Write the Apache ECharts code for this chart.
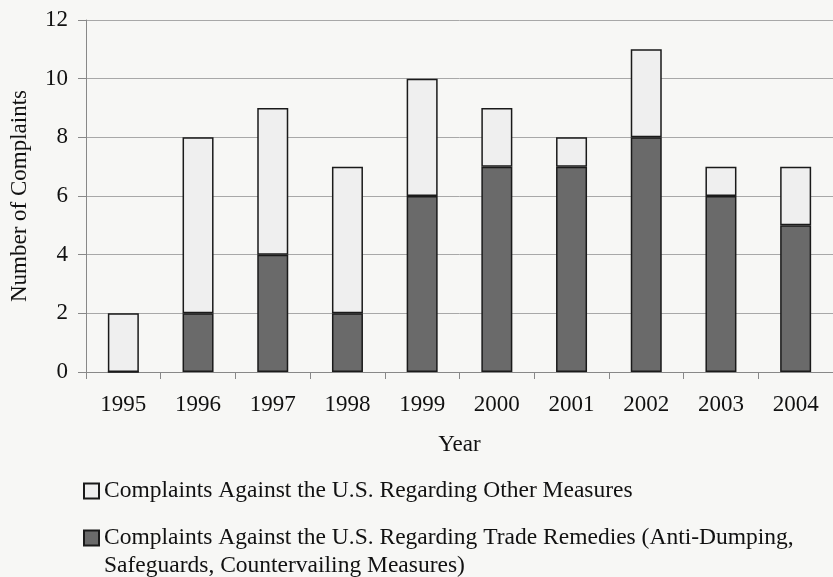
<!DOCTYPE html>
<html>
<head>
<meta charset="utf-8">
<script src="https://cdn.jsdelivr.net/npm/echarts@6/dist/echarts.min.js"></script>
<style>
html,body{margin:0;padding:0;background:#f7f7f5;}
#chart{width:833px;height:577px;}
</style>
</head>
<body>
<div id="chart"></div>
<script>
var years = ['1995','1996','1997','1998','1999','2000','2001','2002','2003','2004'];
var tradeRemedies = [0, 2, 4, 2, 6, 7, 7, 8, 6, 5];
var otherMeasures = [2, 6, 5, 5, 4, 2, 1, 3, 1, 2];
var yTicks = [0, 2, 4, 6, 8, 10, 12];
var nameOther = 'Complaints Against the U.S. Regarding Other Measures';
var nameTrade = 'Complaints Against the U.S. Regarding Trade Remedies (Anti-Dumping,\nSafeguards, Countervailing Measures)';

var font = '"Liberation Serif", "Times New Roman", serif';
var chart = echarts.init(document.getElementById('chart'), null, {renderer: 'canvas'});
chart.setOption({
  backgroundColor: '#f7f7f5',
  animation: false,
  grid: {left: 86, top: 20, width: 749, height: 352, containLabel: false},
  legend: [
    {
      data: [nameOther], left: 78, top: 474, orient: 'vertical',
      itemWidth: 15, itemHeight: 15, icon: 'rect',
      textStyle: {fontFamily: font, fontSize: 23.5, color: '#111'}
    },
    {
      data: [nameTrade], left: 78, top: 491, orient: 'vertical',
      itemWidth: 15, itemHeight: 15, icon: 'rect',
      formatter: function (n) { return ' \n' + n; },
      textStyle: {fontFamily: font, fontSize: 23.5, color: '#111', lineHeight: 28}
    }
  ],
  xAxis: {
    type: 'category',
    data: years,
    name: 'Year',
    nameLocation: 'middle',
    nameGap: 61,
    nameTextStyle: {fontFamily: font, fontSize: 23, color: '#111'},
    axisLine: {lineStyle: {color: '#888', width: 1}},
    axisTick: {show: true, length: 7, lineStyle: {color: '#888'}},
    axisLabel: {fontFamily: font, fontSize: 23, color: '#111', margin: 21}
  },
  yAxis: {
    type: 'value',
    min: yTicks[0],
    max: yTicks[yTicks.length - 1],
    interval: 2,
    name: 'Number of Complaints',
    nameLocation: 'middle',
    nameGap: 55,
    nameTextStyle: {fontFamily: font, fontSize: 23, color: '#111'},
    axisLine: {show: true, lineStyle: {color: '#888', width: 1}},
    axisTick: {show: true, length: 8, lineStyle: {color: '#888'}},
    axisLabel: {fontFamily: font, fontSize: 23, color: '#111', margin: 18},
    splitLine: {show: true, lineStyle: {color: '#a8a8a8', width: 1}}
  },
  series: [
    {
      name: nameTrade,
      type: 'bar',
      stack: 'total',
      data: tradeRemedies,
      barWidth: 31,
      itemStyle: {color: '#6a6a6a', borderColor: '#1a1a1a', borderWidth: 1.5}
    },
    {
      name: nameOther,
      type: 'bar',
      stack: 'total',
      data: otherMeasures,
      barWidth: 31,
      itemStyle: {color: '#efefef', borderColor: '#1a1a1a', borderWidth: 1.5}
    }
  ]
});
</script>
</body>
</html>
